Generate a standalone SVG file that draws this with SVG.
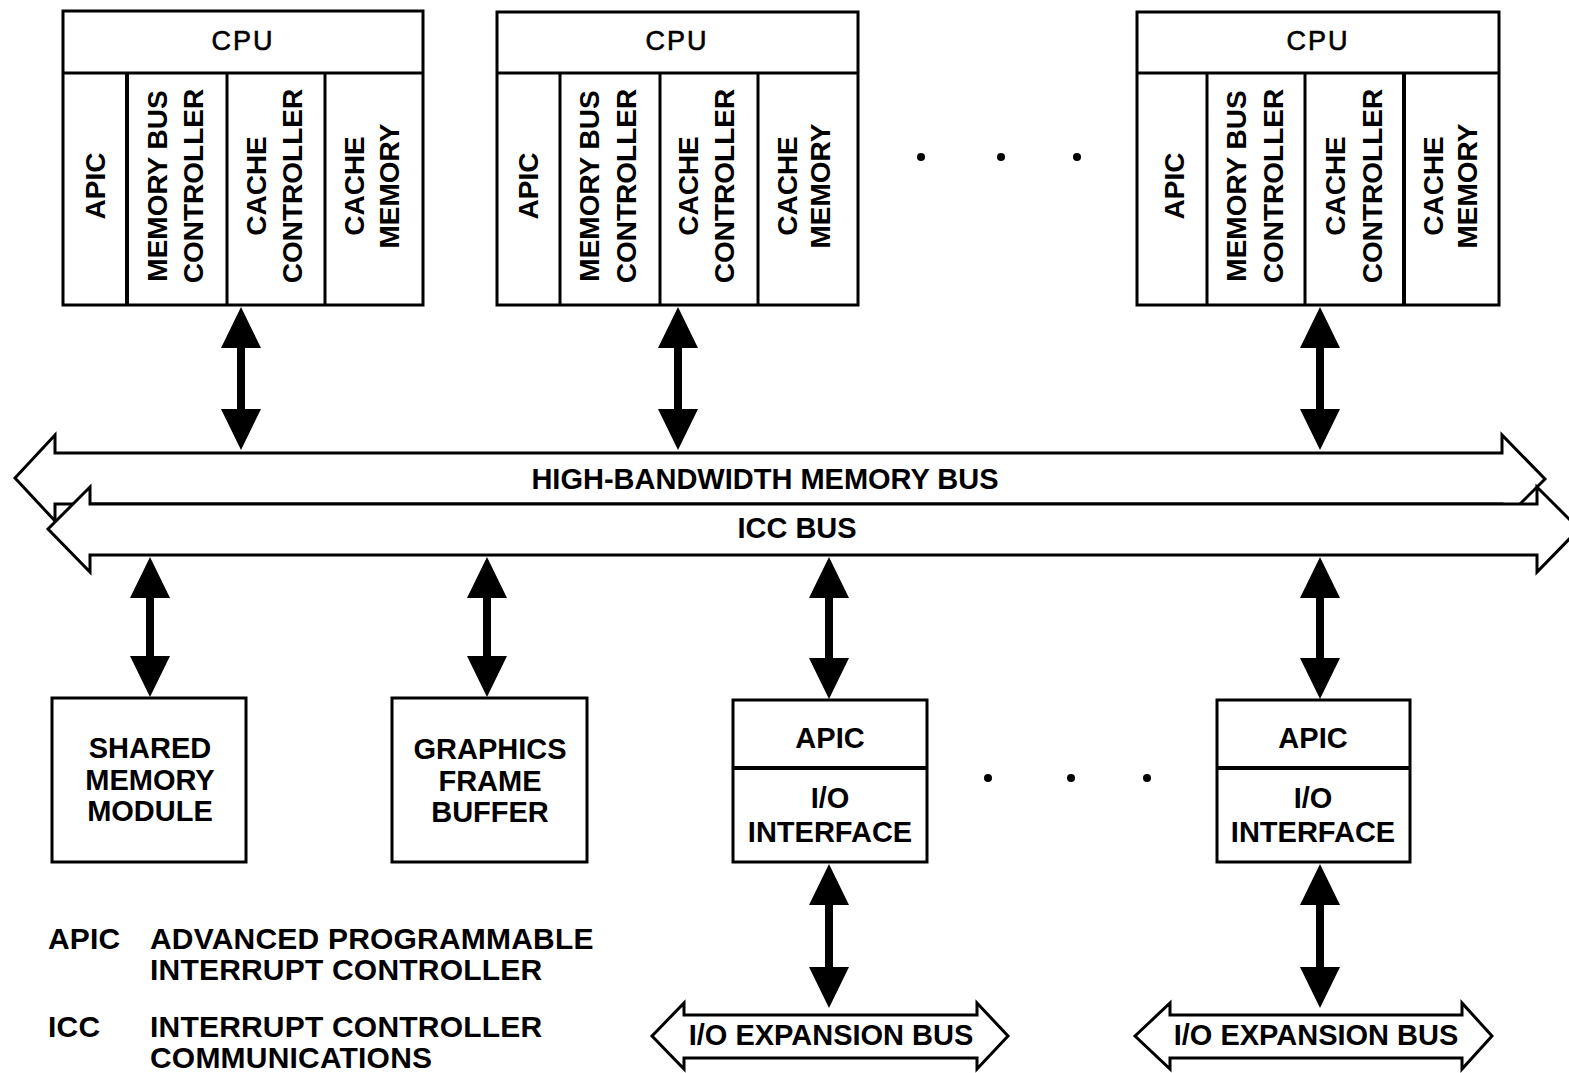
<svg xmlns="http://www.w3.org/2000/svg" width="1569" height="1073" viewBox="0 0 1569 1073">
<style>
.box{fill:#fff;stroke:#000;stroke-width:3}
.ln{stroke:#000;stroke-width:3;fill:none}
.bus{fill:#fff;stroke:#000;stroke-width:3;stroke-linejoin:miter}
.arr{fill:#000;stroke:none}
.dot{fill:#000}
text{font-family:"Liberation Sans",Arial,sans-serif;fill:#000}
.t{font-size:29px;font-weight:bold;text-anchor:middle}
.v{font-size:28px;font-weight:bold;text-anchor:middle}
.cpu{font-size:27px;font-weight:normal;text-anchor:middle;letter-spacing:2px;stroke:#000;stroke-width:0.6}
.lg{font-size:30px;font-weight:bold;letter-spacing:0.2px}
</style>
<rect width="1569" height="1073" fill="#fff"/>

<g id="cpu1">
<rect class="box" x="63" y="11" width="360" height="294"/>
<line class="ln" x1="63" y1="73" x2="423" y2="73"/>
<line class="ln" x1="127" y1="73" x2="127" y2="305" style="stroke-width:4"/>
<line class="ln" x1="227" y1="73" x2="227" y2="305"/>
<line class="ln" x1="325" y1="73" x2="325" y2="305"/>
<text class="cpu" x="243" y="50">CPU</text>
<text class="v" transform="translate(105,186) rotate(-90)">APIC</text>
<text class="v" transform="translate(167,186) rotate(-90)">MEMORY BUS</text>
<text class="v" transform="translate(203,186) rotate(-90)">CONTROLLER</text>
<text class="v" transform="translate(266,186) rotate(-90)">CACHE</text>
<text class="v" transform="translate(302,186) rotate(-90)">CONTROLLER</text>
<text class="v" transform="translate(364,186) rotate(-90)">CACHE</text>
<text class="v" transform="translate(399,186) rotate(-90)">MEMORY</text>
</g>

<g id="cpu2">
<rect class="box" x="497" y="12" width="361" height="293"/>
<line class="ln" x1="497" y1="73" x2="858" y2="73"/>
<line class="ln" x1="560" y1="73" x2="560" y2="305"/>
<line class="ln" x1="660" y1="73" x2="660" y2="305"/>
<line class="ln" x1="758" y1="73" x2="758" y2="305"/>
<text class="cpu" x="677" y="50">CPU</text>
<text class="v" transform="translate(538,186) rotate(-90)">APIC</text>
<text class="v" transform="translate(599,186) rotate(-90)">MEMORY BUS</text>
<text class="v" transform="translate(636,186) rotate(-90)">CONTROLLER</text>
<text class="v" transform="translate(698,186) rotate(-90)">CACHE</text>
<text class="v" transform="translate(734,186) rotate(-90)">CONTROLLER</text>
<text class="v" transform="translate(797,186) rotate(-90)">CACHE</text>
<text class="v" transform="translate(830,186) rotate(-90)">MEMORY</text>
</g>

<g id="cpu3">
<rect class="box" x="1137" y="12" width="362" height="293"/>
<line class="ln" x1="1137" y1="73" x2="1499" y2="73"/>
<line class="ln" x1="1207" y1="73" x2="1207" y2="305"/>
<line class="ln" x1="1305" y1="73" x2="1305" y2="305"/>
<line class="ln" x1="1404" y1="73" x2="1404" y2="305" style="stroke-width:4"/>
<text class="cpu" x="1318" y="50">CPU</text>
<text class="v" transform="translate(1184,186) rotate(-90)">APIC</text>
<text class="v" transform="translate(1246,186) rotate(-90)">MEMORY BUS</text>
<text class="v" transform="translate(1283,186) rotate(-90)">CONTROLLER</text>
<text class="v" transform="translate(1345,186) rotate(-90)">CACHE</text>
<text class="v" transform="translate(1382,186) rotate(-90)">CONTROLLER</text>
<text class="v" transform="translate(1443,186) rotate(-90)">CACHE</text>
<text class="v" transform="translate(1477,186) rotate(-90)">MEMORY</text>
</g>

<g id="dots">
<circle class="dot" cx="921" cy="157" r="4"/>
<circle class="dot" cx="1001" cy="157" r="4"/>
<circle class="dot" cx="1077" cy="157" r="4"/>
<circle class="dot" cx="988" cy="778" r="4"/>
<circle class="dot" cx="1071" cy="778" r="4"/>
<circle class="dot" cx="1147" cy="778" r="4"/>
</g>

<g id="memory-bus">
<polygon class="bus" points="15,478 55,435 55,453 1502,453 1502,435 1545,479 1502,522 1502,504 55,504 55,521"/>
<text class="t" x="765" y="489">HIGH-BANDWIDTH MEMORY BUS</text>
</g>
<g id="icc-bus">
<polygon class="bus" points="48,529 90,487 90,504 1537,504 1537,487 1579,529 1537,572 1537,555 90,555 90,572"/>
<text class="t" x="797" y="538">ICC BUS</text>
</g>

<g id="shared-memory">
<rect class="box" x="52" y="698" width="194" height="164"/>
<text class="t" x="150" y="758">SHARED</text>
<text class="t" x="150" y="790">MEMORY</text>
<text class="t" x="150" y="821">MODULE</text>
</g>
<g id="graphics">
<rect class="box" x="392" y="698" width="195" height="164"/>
<text class="t" x="490" y="759">GRAPHICS</text>
<text class="t" x="490" y="791">FRAME</text>
<text class="t" x="490" y="822">BUFFER</text>
</g>
<g id="io1">
<rect class="box" x="733" y="700" width="194" height="162"/>
<line class="ln" x1="733" y1="768" x2="927" y2="768" style="stroke-width:4"/>
<text class="t" x="830" y="748">APIC</text>
<text class="t" x="830" y="808">I/O</text>
<text class="t" x="830" y="842">INTERFACE</text>
</g>
<g id="io2">
<rect class="box" x="1217" y="700" width="193" height="162"/>
<line class="ln" x1="1217" y1="768" x2="1410" y2="768" style="stroke-width:4"/>
<text class="t" x="1313" y="748">APIC</text>
<text class="t" x="1313" y="808">I/O</text>
<text class="t" x="1313" y="842">INTERFACE</text>
</g>
<g id="io-bus1">
<polygon class="bus" points="652,1036 684,1003 684,1015 977,1015 977,1003 1008,1036 977,1069 977,1058 684,1058 684,1069"/>
<text class="t" x="831" y="1045">I/O EXPANSION BUS</text>
</g>
<g id="io-bus2">
<polygon class="bus" points="1135,1036 1170,1003 1170,1015 1462,1015 1462,1003 1492,1036 1462,1069 1462,1058 1170,1058 1170,1069"/>
<text class="t" x="1316" y="1045">I/O EXPANSION BUS</text>
</g>

<g id="connectors">
<polygon class="arr" points="241,307 261,348 245,348 245,409 261,409 241,450 221,409 237,409 237,348 221,348"/>
<polygon class="arr" points="678,307 698,348 682,348 682,409 698,409 678,450 658,409 674,409 674,348 658,348"/>
<polygon class="arr" points="1320,307 1340,348 1324,348 1324,409 1340,409 1320,450 1300,409 1316,409 1316,348 1300,348"/>
<polygon class="arr" points="150,557 170,598 154,598 154,656 170,656 150,697 130,656 146,656 146,598 130,598"/>
<polygon class="arr" points="487,557 507,598 491,598 491,656 507,656 487,697 467,656 483,656 483,598 467,598"/>
<polygon class="arr" points="829,557 849,598 833,598 833,658 849,658 829,699 809,658 825,658 825,598 809,598"/>
<polygon class="arr" points="1320,557 1340,598 1324,598 1324,658 1340,658 1320,699 1300,658 1316,658 1316,598 1300,598"/>
<polygon class="arr" points="829,864 849,905 833,905 833,967 849,967 829,1008 809,967 825,967 825,905 809,905"/>
<polygon class="arr" points="1320,864 1340,905 1324,905 1324,967 1340,967 1320,1008 1300,967 1316,967 1316,905 1300,905"/>
</g>

<g id="legend">
<text class="lg" x="48" y="949">APIC</text>
<text class="lg" x="150" y="949">ADVANCED PROGRAMMABLE</text>
<text class="lg" x="150" y="980">INTERRUPT CONTROLLER</text>
<text class="lg" x="48" y="1037">ICC</text>
<text class="lg" x="150" y="1037">INTERRUPT CONTROLLER</text>
<text class="lg" x="150" y="1068">COMMUNICATIONS</text>
</g>
</svg>
